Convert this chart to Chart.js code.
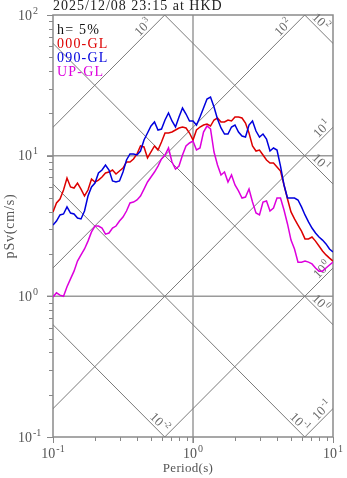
<!DOCTYPE html>
<html>
<head>
<meta charset="utf-8">
<script src="https://cdn.jsdelivr.net/npm/chart.js@4"></script>
<style>
  html, body { margin: 0; padding: 0; background: #fff; }
</style>
</head>
<body>
<canvas id="chart1" width="347" height="478"></canvas>
<script>
// periods (s)
var periods = [0.1000,0.1059,0.1122,0.1189,0.1259,0.1334,0.1413,0.1496,0.1585,0.1679,
  0.1778,0.1884,0.1995,0.2113,0.2239,0.2371,0.2512,0.2661,0.2818,0.2985,
  0.3162,0.3350,0.3548,0.3758,0.3981,0.4217,0.4467,0.4732,0.5012,0.5309,
  0.5623,0.5957,0.6310,0.6683,0.7079,0.7499,0.7943,0.8414,0.8913,0.9441,
  1.000,1.059,1.122,1.189,1.259,1.334,1.413,1.496,1.585,1.679,
  1.778,1.884,1.995,2.113,2.239,2.371,2.512,2.661,2.818,2.985,
  3.162,3.350,3.548,3.758,3.981,4.217,4.467,4.732,5.012,5.309,
  5.623,5.957,6.310,6.683,7.079,7.499,7.943,8.414,8.913,9.441,10.00];

// pSv (cm/s)
var sv000 = [3.98,4.61,4.92,5.70,6.94,5.99,5.89,6.39,5.79,5.17,
  5.70,6.82,6.50,6.71,7.05,7.53,7.65,7.91,7.41,7.78,
  8.17,9.02,9.02,9.47,10.28,11.72,11.53,9.63,10.62,11.72,
  10.97,12.50,14.49,14.49,14.73,15.22,15.73,15.99,15.73,14.49,
  12.92,15.22,15.99,16.52,16.79,16.25,17.93,18.53,17.35,17.35,
  17.93,17.64,18.82,18.82,18.53,17.07,14.49,11.72,10.79,10.97,
  10.11,9.32,8.87,8.87,8.31,7.78,6.19,4.92,3.98,3.55,
  3.21,2.91,2.56,2.56,2.64,2.47,2.28,2.10,1.97,1.87,1.78];

var sv090 = [3.21,3.43,3.79,3.85,4.32,3.91,3.85,3.60,3.55,4.04,
  5.17,5.99,6.39,7.53,7.91,8.58,7.91,6.61,6.50,6.61,
  7.65,9.32,10.28,10.28,10.11,10.79,12.92,14.49,16.25,17.35,
  15.22,15.47,17.93,20.10,17.64,15.99,18.82,21.82,19.77,17.64,
  17.64,16.52,18.82,21.82,25.28,26.13,22.18,18.23,15.73,14.25,
  14.25,15.99,16.52,14.73,13.79,13.57,16.52,17.64,14.97,13.57,
  14.25,13.13,10.79,11.34,10.97,8.44,6.19,5.00,5.00,5.00,
  4.84,4.32,3.79,3.38,3.06,2.82,2.64,2.51,2.36,2.17,2.07];

var svUP = [0.99,1.06,1.02,1.00,1.17,1.33,1.51,1.78,1.97,2.17,
  2.47,2.87,3.16,3.16,3.06,2.77,2.82,3.06,3.16,3.43,
  3.66,4.04,4.61,4.68,4.84,5.17,5.79,6.50,7.05,7.65,
  8.44,9.47,10.11,11.34,9.02,8.04,8.44,10.11,11.72,12.31,
  12.71,10.97,11.34,14.73,16.25,15.47,10.62,8.58,7.29,7.65,
  6.50,7.29,6.19,5.61,5.00,5.08,5.79,4.68,3.91,3.79,
  4.68,4.76,4.04,4.24,5.00,5.00,4.11,3.27,2.51,2.17,
  1.75,1.75,1.78,1.75,1.70,1.59,1.51,1.51,1.59,1.67,1.75];

var seriesNames = ['000-GL', '090-GL', 'UP-GL'];
var seriesColors = ['#dd0000', '#0000dd', '#dd00dd'];
var dampingText = 'h= 5%';
var titleText = '2025/12/08 23:15 at HKD';

// tripartite grid levels
var accelLevels = [0.1, 1, 10, 100, 1000];   // gal
var dispLevels = [0.01, 0.1, 1, 10, 100];    // cm
var gridPeriods = [1];
var gridSv = [1, 10];
var xTickExp = [-1, 0, 1];
var yTickExp = [-1, 0, 1, 2];

var FONT = '"Liberation Serif", "Times New Roman", serif';

function accelLine(sa) {
  return [{x: 0.01, y: sa * 0.01 / (2 * Math.PI)}, {x: 100, y: sa * 100 / (2 * Math.PI)}];
}
function dispLine(sd) {
  return [{x: 0.01, y: 2 * Math.PI * sd / 0.01}, {x: 100, y: 2 * Math.PI * sd / 100}];
}

function drawPow(ctx, exp, x, y, size, align) {
  var big = size + 'px ' + FONT;
  var small = Math.round(size * 0.68) + 'px ' + FONT;
  ctx.font = big;
  var w1 = ctx.measureText('10').width;
  ctx.font = small;
  var w2 = ctx.measureText(String(exp)).width;
  var x0 = x;
  if (align === 'center') x0 = x - (w1 + w2 + 1) / 2;
  if (align === 'right') x0 = x - (w1 + w2 + 1);
  ctx.textAlign = 'left';
  ctx.font = big;
  ctx.fillText('10', x0, y);
  ctx.font = small;
  ctx.fillText(String(exp), x0 + w1 + 1, y - size * 0.42);
}

function clipSeg(p0, p1, a) {
  var t0 = 0, t1 = 1, dx = p1.x - p0.x, dy = p1.y - p0.y;
  var pp = [-dx, dx, -dy, dy];
  var qq = [p0.x - a.left, a.right - p0.x, p0.y - a.top, a.bottom - p0.y];
  for (var i = 0; i < 4; i++) {
    if (pp[i] === 0) { if (qq[i] < 0) return null; continue; }
    var r = qq[i] / pp[i];
    if (pp[i] < 0) { if (r > t1) return null; if (r > t0) t0 = r; }
    else { if (r < t0) return null; if (r < t1) t1 = r; }
  }
  return [{x: p0.x + t0 * dx, y: p0.y + t0 * dy}, {x: p0.x + t1 * dx, y: p0.y + t1 * dy}];
}

function diagLabel(chart, pts, exp, slash) {
  var ctx = chart.ctx, a = chart.chartArea;
  var xs = chart.scales.x, ys = chart.scales.y;
  var p0 = {x: xs.getPixelForValue(pts[0].x), y: ys.getPixelForValue(pts[0].y)};
  var p1 = {x: xs.getPixelForValue(pts[1].x), y: ys.getPixelForValue(pts[1].y)};
  var seg = clipSeg(p0, p1, a);
  if (!seg) return;
  var end = seg[1];
  var ux = seg[0].x - end.x, uy = seg[0].y - end.y;
  var len = Math.sqrt(ux * ux + uy * uy);
  ux /= len; uy /= len;
  var along;
  if (Math.abs(end.x - a.right) < 1) along = slash ? 9 : 24;
  else if (Math.abs(end.y - a.top) < 1) along = 24;
  else along = 14;
  var nx = uy, ny = -ux;
  if (ny > 0) { nx = -nx; ny = -ny; }
  var cx = end.x + ux * along + nx * 7;
  var cy = end.y + uy * along + ny * 7;
  ctx.save();
  ctx.translate(cx, cy);
  ctx.rotate(Math.atan2(-uy, -ux));
  ctx.fillStyle = '#6a6a6a';
  ctx.textBaseline = 'alphabetic';
  drawPow(ctx, exp, 0, 4.3, 13, 'center');
  ctx.restore();
}

var deco = {
  id: 'deco',
  beforeDatasetsDraw: function (chart) {
    var ctx = chart.ctx, a = chart.chartArea;
    var xs = chart.scales.x, ys = chart.scales.y;
    ctx.save();
    // major grid
    ctx.strokeStyle = '#9a9a9a';
    ctx.lineWidth = 1.5;
    ctx.beginPath();
    gridPeriods.forEach(function (t) {
      var px = xs.getPixelForValue(t);
      ctx.moveTo(px, a.top); ctx.lineTo(px, a.bottom + 6);
    });
    gridSv.forEach(function (v) {
      var py = ys.getPixelForValue(v);
      ctx.moveTo(a.left - 6, py); ctx.lineTo(a.right, py);
    });
    ctx.stroke();

    // ticks (outside, left and bottom)
    ctx.strokeStyle = '#888';
    ctx.lineWidth = 1;
    ctx.beginPath();
    [0.1, 1, 10].forEach(function (d) {
      for (var m = 1; m <= 10; m++) {
        var v = d * m;
        var L = m === 1 || m === 10 ? 6 : 4;
        if (v <= 10.0001) {
          var px = Math.round(xs.getPixelForValue(v)) + 0.5;
          ctx.moveTo(px, a.bottom); ctx.lineTo(px, a.bottom + L);
        }
      }
    });
    [0.1, 1, 10].forEach(function (d) {
      for (var m = 1; m <= 10; m++) {
        var v = d * m;
        var L = m === 1 || m === 10 ? 6 : 4;
        var py = Math.round(ys.getPixelForValue(v)) + 0.5;
        ctx.moveTo(a.left - L, py); ctx.lineTo(a.left, py);
      }
    });
    ctx.stroke();

    // frame
    ctx.strokeStyle = '#8a8a8a';
    ctx.lineWidth = 1.5;
    ctx.strokeRect(a.left, a.top, a.right - a.left, a.bottom - a.top);

    // diagonal labels
    accelLevels.forEach(function (s) {
      diagLabel(chart, accelLine(s), Math.round(Math.log10(s)), true);
    });
    dispLevels.forEach(function (s) {
      diagLabel(chart, dispLine(s), Math.round(Math.log10(s)), false);
    });
    ctx.restore();
  },
  afterDraw: function (chart) {
    var ctx = chart.ctx, a = chart.chartArea;
    var xs = chart.scales.x, ys = chart.scales.y;
    ctx.save();
    ctx.textBaseline = 'alphabetic';

    // tick labels
    ctx.fillStyle = '#555';
    xTickExp.forEach(function (e) {
      drawPow(ctx, e, xs.getPixelForValue(Math.pow(10, e)), 458, 14, 'center');
    });
    yTickExp.forEach(function (e) {
      drawPow(ctx, e, 18, ys.getPixelForValue(Math.pow(10, e)) + 4.6, 14, 'left');
    });

    // axis titles
    ctx.fillStyle = '#555';
    ctx.font = '13px ' + FONT;
    ctx.letterSpacing = '0.3px';
    ctx.textAlign = 'center';
    ctx.fillText('Period(s)', 188, 472);
    ctx.save();
    ctx.translate(14, (a.top + a.bottom) / 2);
    ctx.rotate(-Math.PI / 2);
    ctx.font = '14px ' + FONT;
    ctx.letterSpacing = '0.8px';
    ctx.fillText('pSv(cm/s)', 0, 0);
    ctx.restore();

    // title
    ctx.textAlign = 'left';
    ctx.fillStyle = '#222';
    ctx.font = '14px ' + FONT;
    ctx.letterSpacing = '1px';
    ctx.fillText(titleText, a.left, 10);

    // legend
    ctx.letterSpacing = '1.2px';
    ctx.fillStyle = '#111';
    ctx.fillText(dampingText, 57, 34);
    seriesNames.forEach(function (n, i) {
      ctx.fillStyle = seriesColors[i];
      ctx.fillText(n, 57, 48 + i * 14);
    });
    ctx.restore();
  }
};

function toPoints(vals) {
  return periods.map(function (t, i) { return {x: t, y: vals[i]}; });
}

var datasets = [];
accelLevels.forEach(function (s) {
  datasets.push({data: accelLine(s), borderColor: '#7a7a7a', borderWidth: 1, order: 10});
});
dispLevels.forEach(function (s) {
  datasets.push({data: dispLine(s), borderColor: '#7a7a7a', borderWidth: 1, order: 10});
});
[sv000, sv090, svUP].forEach(function (vals, i) {
  datasets.push({
    label: seriesNames[i],
    data: toPoints(vals),
    borderColor: seriesColors[i],
    borderWidth: 1.5,
    order: 3 - i
  });
});

var ctx = document.getElementById('chart1').getContext('2d');
var spectrumChart = new Chart(ctx, {
  type: 'line',
  data: { datasets: datasets },
  options: {
    responsive: false,
    animation: false,
    devicePixelRatio: 1,
    events: [],
    layout: { padding: { left: 53, right: 14, top: 15, bottom: 41 } },
    elements: { point: { radius: 0 }, line: { tension: 0, fill: false } },
    plugins: { legend: { display: false }, tooltip: { enabled: false }, title: { display: false } },
    scales: {
      x: { type: 'logarithmic', min: 0.1, max: 10, display: false },
      y: { type: 'logarithmic', min: 0.1, max: 100, display: false }
    }
  },
  plugins: [deco]
});
</script>
</body>
</html>
